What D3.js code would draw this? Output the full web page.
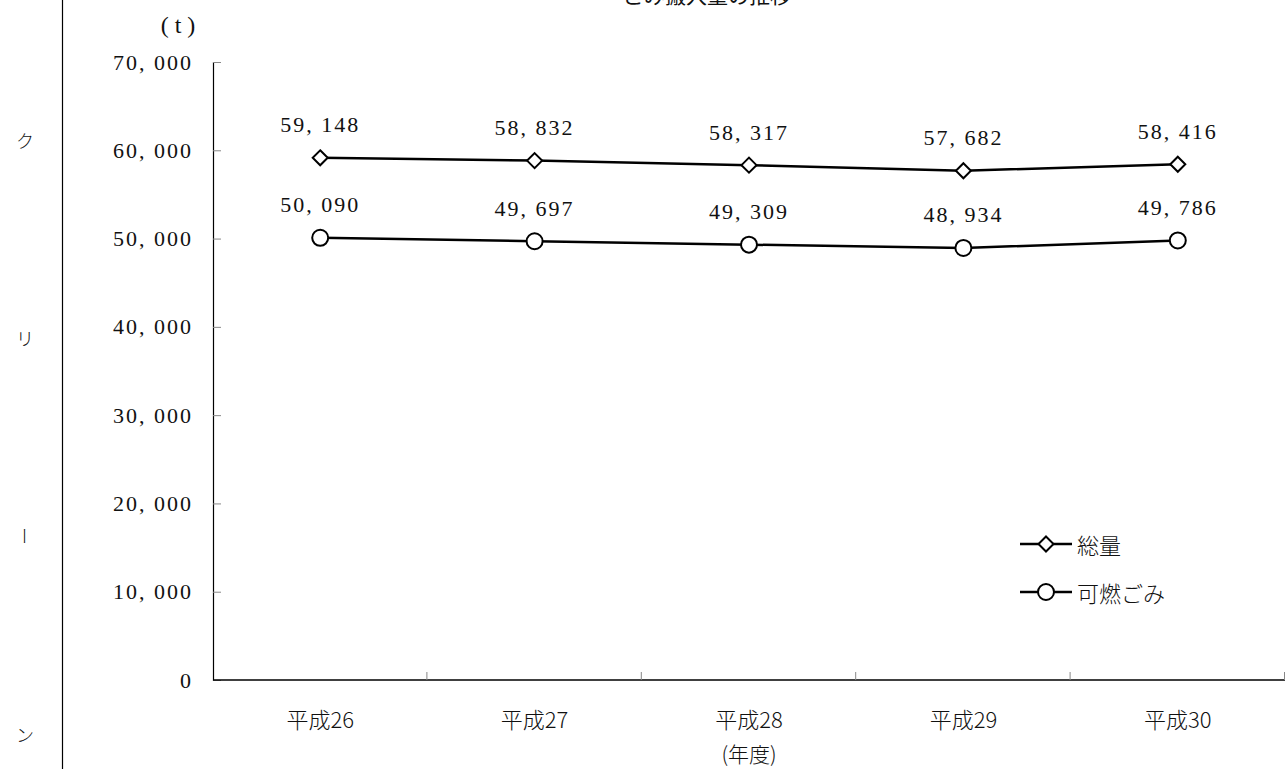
<!DOCTYPE html>
<html lang="ja">
<head>
<meta charset="utf-8">
<script src="https://cdn.jsdelivr.net/npm/d3@7"></script>
<style>
  html, body { margin: 0; padding: 0; background: #fff; }
  svg { display: block; }
  text { fill: #111; }
  .num { font-family: "Liberation Serif", "Noto Sans CJK JP", serif; }
  .jp { font-family: "Noto Sans CJK JP", sans-serif; }
</style>
</head>
<body>
<svg id="chart" width="1285" height="769"></svg>
<script>
// Fiscal years (Heisei era)
const years = ["平成26", "平成27", "平成28", "平成29", "平成30"];
// Total delivered amount (t)
const totalValues = [59148, 58832, 58317, 57682, 58416];
// Combustible waste (t)
const combustibleValues = [50090, 49697, 49309, 48934, 49786];
const seriesNames = ["総量", "可燃ごみ"];
const yTicks = [0, 10000, 20000, 30000, 40000, 50000, 60000, 70000];
const sideLetters = ["ク", "リ", "ー", "ン"];

const svg = d3.select("#chart");
const W = 1285, H = 769;
const plot = { left: 213, right: 1285, top: 62, bottom: 680 };

const x = d3.scaleBand().domain(years).range([plot.left, plot.right]).padding(0);
const y = d3.scaleLinear().domain([0, 70000]).range([plot.bottom, plot.top]);

const fmt = v => d3.format(",")(v).replace(",", ", ");

// page margin rule and vertical heading on the left
svg.append("line")
  .attr("x1", 62.5).attr("x2", 62.5).attr("y1", 0).attr("y2", H)
  .attr("stroke", "#000").attr("stroke-width", 1.2);
svg.append("g").selectAll("text").data(sideLetters).join("text")
  .attr("class", "jp")
  .attr("x", 0).attr("y", 0)
  .attr("transform", (d, i) => {
    const t = `translate(25,${140 + i * 198})`;
    return d === "ー" ? t + " rotate(90)" : t;
  })
  .attr("text-anchor", "middle").attr("dominant-baseline", "central")
  .attr("font-size", 18).attr("font-weight", 300).text(d => d);

// chart title (partly above the page edge)
svg.append("text").attr("class", "jp")
  .attr("x", 707).attr("y", 3)
  .attr("text-anchor", "middle").attr("font-size", 21)
  .text("ごみ搬入量の推移");

// y axis
const yAxis = svg.append("g")
  .attr("transform", `translate(${plot.left},0)`)
  .call(d3.axisLeft(y).tickValues(yTicks).tickSize(-8).tickPadding(20).tickFormat(fmt));
yAxis.select(".domain").attr("stroke", "#000").attr("stroke-width", 1.2);
yAxis.selectAll(".tick line").attr("stroke", "#888").attr("stroke-width", 1);
yAxis.selectAll(".tick text")
  .attr("class", "num").attr("font-size", 22).attr("fill", "#111")
  .attr("letter-spacing", "2px");

// x axis: ticks at category boundaries
svg.append("line")
  .attr("x1", plot.left).attr("x2", plot.right)
  .attr("y1", plot.bottom).attr("y2", plot.bottom)
  .attr("stroke", "#000").attr("stroke-width", 1.5);
svg.append("g").selectAll("line").data(years.slice(1).concat(["end"])).join("line")
  .attr("x1", (d, i) => x(years[0]) + (i + 1) * x.bandwidth() - 0.5)
  .attr("x2", (d, i) => x(years[0]) + (i + 1) * x.bandwidth() - 0.5)
  .attr("y1", plot.bottom).attr("y2", plot.bottom - 8)
  .attr("stroke", "#888").attr("stroke-width", 1);
svg.append("g").selectAll("text").data(years).join("text")
  .attr("class", "jp")
  .attr("x", d => x(d) + x.bandwidth() / 2).attr("y", 718)
  .attr("text-anchor", "middle").attr("dominant-baseline", "central")
  .attr("font-size", 22).attr("font-weight", 300).text(d => d);
svg.append("text").attr("class", "jp")
  .attr("x", x(years[2]) + x.bandwidth() / 2).attr("y", 753)
  .attr("text-anchor", "middle").attr("dominant-baseline", "central")
  .attr("font-size", 21).attr("font-weight", 300).text("(年度)");

// unit label
svg.append("text").attr("class", "num")
  .attr("x", 178).attr("y", 25)
  .attr("text-anchor", "middle").attr("dominant-baseline", "central")
  .attr("font-size", 24).text("( t )");

const cx = d => x(d) + x.bandwidth() / 2;
const line = d3.line().x(d => cx(d.year)).y(d => y(d.value));

const series = [
  { name: seriesNames[0], values: totalValues, marker: "diamond" },
  { name: seriesNames[1], values: combustibleValues, marker: "circle" }
];

function drawMarker(g, kind, px, py) {
  if (kind === "diamond") {
    g.append("path")
      .attr("d", `M${px},${py - 7.5}L${px + 7.5},${py}L${px},${py + 7.5}L${px - 7.5},${py}Z`)
      .attr("fill", "#fff").attr("stroke", "#000").attr("stroke-width", 2);
  } else {
    g.append("circle").attr("cx", px).attr("cy", py).attr("r", 8)
      .attr("fill", "#fff").attr("stroke", "#000").attr("stroke-width", 2);
  }
}

series.forEach(s => {
  const pts = years.map((yr, i) => ({ year: yr, value: s.values[i] }));
  const g = svg.append("g");
  g.append("path").datum(pts).attr("d", line)
    .attr("fill", "none").attr("stroke", "#000").attr("stroke-width", 2.5);
  pts.forEach(p => drawMarker(g, s.marker, cx(p.year), y(p.value)));
  g.selectAll("text").data(pts).join("text")
    .attr("class", "num")
    .attr("x", d => cx(d.year)).attr("y", d => y(d.value) - 33)
    .attr("text-anchor", "middle").attr("dominant-baseline", "central")
    .attr("font-size", 22).attr("letter-spacing", "2px")
    .text(d => fmt(d.value));
});

// legend
const legend = svg.append("g");
series.forEach((s, i) => {
  const ly = 544 + i * 48;
  legend.append("line").attr("x1", 1020).attr("x2", 1072).attr("y1", ly).attr("y2", ly)
    .attr("stroke", "#000").attr("stroke-width", 2.5);
  drawMarker(legend, s.marker, 1046, ly);
  legend.append("text").attr("class", "jp")
    .attr("x", 1077).attr("y", ly)
    .attr("dominant-baseline", "central").attr("font-size", 22).attr("font-weight", 300)
    .text(s.name);
});
</script>
</body>
</html>
